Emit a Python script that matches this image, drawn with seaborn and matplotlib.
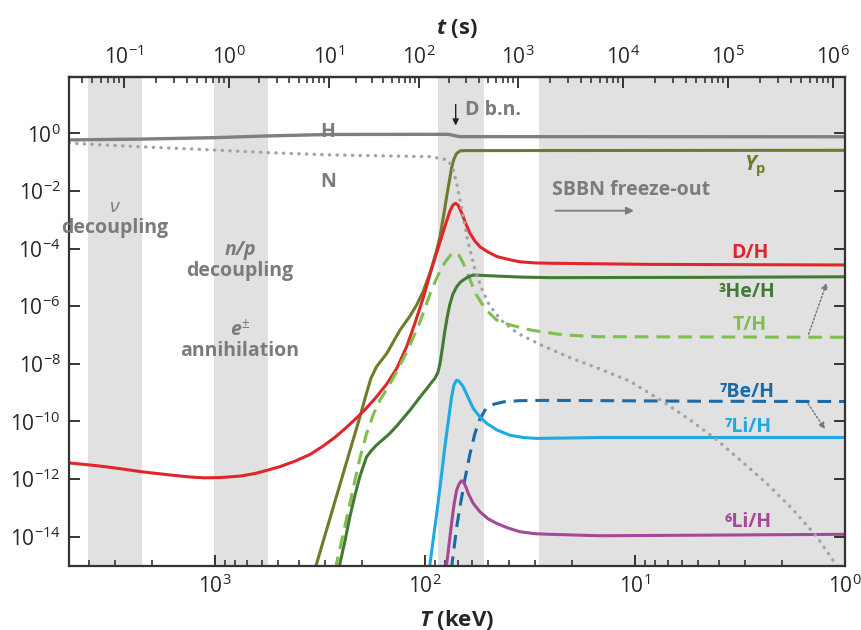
import numpy as np
import matplotlib
matplotlib.use("Agg")
import matplotlib.pyplot as plt
import seaborn as sns
from matplotlib.ticker import NullLocator

# values: temperature T in keV, abundances as log10
H_T = [4955, 2228, 1000, 560, 283, 94.7, 77.6, 74.3, 71.3, 68.1, 1]
H_LOG = [-0.23, -0.20, -0.15, -0.09, -0.04, -0.035, -0.035, -0.06, -0.09, -0.115, -0.12]

N_T = [4955, 2228, 1000, 560, 283, 94.7, 84.9, 77.6, 73.3, 70.7, 68.1, 66.1, 62.7, 58.3, 54.1,
       49.4, 43.5, 36.2, 28.0, 20.2, 14.7, 10.6, 7.33, 5.47, 4.08, 3.16, 2.36, 1.76, 1.36,
       1.14, 1.09]
N_LOG = [-0.34, -0.47, -0.58, -0.67, -0.75, -0.81, -0.87, -0.93, -1.27, -1.74, -2.32, -2.78,
         -3.70, -4.63, -5.33, -5.96, -6.48, -6.94, -7.35, -7.80, -8.18, -8.60, -9.32, -9.95,
         -10.64, -11.34, -12.15, -13.08, -14.01, -14.82, -15.03]

YP_T = [335, 254, 204, 190, 180.8, 170, 152, 131.5, 117.8, 109.6, 102.3, 94.7, 88.7, 84.9,
        81.6, 78.9, 76.4, 74.7, 72.8, 70.7, 68.1, 64.5, 1]
YP_LOG = [-15.16, -12.19, -9.84, -9.03, -8.50, -8.10, -7.64, -6.83, -6.34, -5.96, -5.51, -4.85,
          -4.16, -3.60, -2.87, -2.21, -1.62, -1.20, -0.89, -0.70, -0.61, -0.60, -0.59]

DH_T = [4955, 3532, 2832, 2228, 1637, 1315, 1116, 946, 760, 645, 560, 490, 416, 353, 306, 268,
        240, 211, 193, 173, 152, 136, 122, 112, 102, 93.6, 85.7, 79.4, 76.1, 73.6, 71.6, 69.6,
        66.7, 63.8, 61.1, 57.8, 54.7, 50.1, 45.4, 39.4, 35.3, 29.9, 25.4, 8.49, 1]
DH_LOG = [-11.44, -11.55, -11.64, -11.75, -11.86, -11.93, -11.96, -11.95, -11.90, -11.81,
          -11.69, -11.57, -11.38, -11.15, -10.86, -10.55, -10.25, -9.87, -9.59, -9.21, -8.70,
          -8.15, -7.39, -6.62, -5.72, -4.78, -3.88, -3.11, -2.70, -2.49, -2.43, -2.49, -2.78,
          -3.15, -3.47, -3.74, -3.94, -4.12, -4.28, -4.39, -4.46, -4.50, -4.51, -4.55, -4.57]

TH_T = [268, 240, 219, 204, 190, 176, 163.7, 152, 139, 122, 108, 101, 94.7, 87.9, 83, 78.9,
        75.1, 72.0, 68.9, 65.7, 63.1, 60.0, 57.2, 53.7, 50.1, 45.6, 41.6, 35.3, 31.3, 26.1,
        21.7, 15.1, 1]
TH_LOG = [-15.16, -13.60, -12.28, -11.27, -10.44, -9.75, -9.26, -8.88, -8.39, -7.59, -6.72,
          -6.17, -5.58, -5.02, -4.64, -4.40, -4.21, -4.13, -4.23, -4.51, -4.82, -5.21, -5.58,
          -5.90, -6.19, -6.48, -6.60, -6.74, -6.83, -6.92, -7.00, -7.06, -7.08]

HE3_T = [258, 240, 228, 215.4, 204, 195, 190, 180.8, 170, 158.5, 146.8, 135.9, 127, 117.8,
         109.6, 102, 94.7, 89.6, 86.7, 84.9, 82.6, 80.4, 78.2, 76.1, 73.6, 70.7, 68.1, 65.7,
         62.4, 58.9, 54.7, 47.3, 35.3, 25.4, 4.90, 1]
HE3_LOG = [-15.16, -14.12, -13.32, -12.56, -11.90, -11.48, -11.24, -11.03, -10.82, -10.63,
           -10.41, -10.15, -9.89, -9.61, -9.31, -9.02, -8.72, -8.50, -8.29, -8.01, -7.45, -6.86,
           -6.34, -5.93, -5.58, -5.33, -5.18, -5.09, -4.99, -4.92, -4.93, -4.95, -4.99, -5.01,
           -5.00, -4.98]

BE7_T = [75.0, 70.4, 67.4, 64.5, 61.1, 57.8, 54.7, 51.3, 46.9, 42.1, 35.3, 25.4, 4.90, 1]
BE7_LOG = [-15.16, -13.60, -12.77, -11.99, -11.14, -10.41, -9.91, -9.56, -9.40, -9.32, -9.28,
           -9.27, -9.30, -9.31]

LI7_T = [95.5, 87.9, 84.0, 80.4, 77.3, 74.7, 72.8, 70.7, 68.9, 67.4, 65.7, 62.4, 58.9, 54.7,
         50.8, 45.4, 39.4, 34.1, 29.4, 22.8, 14.7, 1]
LI7_LOG = [-15.16, -13.19, -12.04, -10.88, -9.95, -9.15, -8.74, -8.57, -8.60, -8.69, -8.80,
           -9.16, -9.55, -9.85, -10.07, -10.30, -10.48, -10.56, -10.59, -10.58, -10.56, -10.56]

LI6_T = [79.4, 76.9, 74.7, 72.8, 70.7, 68.9, 67.0, 65.6, 63.8, 62.2, 59.0, 54.7, 50.1, 45.6,
         40.3, 35.3, 29.9, 25.4, 14.7, 4.90, 1]
LI6_LOG = [-15.16, -14.30, -13.54, -12.91, -12.39, -12.18, -12.06, -12.09, -12.28, -12.50,
           -12.84, -13.14, -13.38, -13.54, -13.70, -13.83, -13.90, -13.92, -13.97, -13.95,
           -13.92]

# grey epochs (T range in keV)
BAND_HI = [4030, 1010, 86.7, 28.6]
BAND_LO = [2228, 560, 52.4, 1]

TIME_S = [1e-3, 1e-2, 1e-1, 1e0, 1e1, 1e2, 1e3, 1e4, 1e5, 1e6, 1e7, 1e8]
TIME_T = [27100, 8577, 2712, 858, 286.5, 106.8, 36.1, 11.4, 3.61, 1.14, 0.361, 0.114]
TIME_TICKS = [1e-1, 1e0, 1e1, 1e2, 1e3, 1e4, 1e5, 1e6]


def T_to_t(T):
    T = np.clip(np.asarray(T, dtype=float), 1e-6, None)
    return 10 ** np.interp(-np.log10(T), -np.log10(TIME_T), np.log10(TIME_S))


def t_to_T(t):
    t = np.clip(np.asarray(t, dtype=float), 1e-12, None)
    return 10 ** np.interp(np.log10(t), np.log10(TIME_S), np.log10(TIME_T))


sns.set_style("ticks")
plt.rcParams["font.family"] = ["Open Sans", "DejaVu Sans"]
plt.rcParams["mathtext.fontset"] = "custom"
plt.rcParams["mathtext.rm"] = "Open Sans"
plt.rcParams["mathtext.it"] = "Open Sans:italic"
plt.rcParams["mathtext.bf"] = "Open Sans:bold"
plt.rcParams["mathtext.bfit"] = "Open Sans:italic:bold"

fig = plt.figure(figsize=(8.62, 6.3), dpi=100)
ax = fig.add_axes([69 / 862, 1 - 566 / 630, 776 / 862, 489 / 630])
ax.set_xscale("log")
ax.set_yscale("log")

for hi, lo in zip(BAND_HI, BAND_LO):
    ax.axvspan(hi, lo, color="#e1e1e1", lw=0, zorder=0)

curves = [
    (H_T, H_LOG, "#7f7f7f", "-", 2.4),
    (YP_T, YP_LOG, "#6f7a2b", "-", 2.2),
    (DH_T, DH_LOG, "#e0262b", "-", 2.2),
    (TH_T, TH_LOG, "#7fbf4d", (0, (4.5, 2.6)), 2.2),
    (HE3_T, HE3_LOG, "#437a33", "-", 2.2),
    (BE7_T, BE7_LOG, "#1b69a6", (0, (4.5, 2.6)), 2.2),
    (LI7_T, LI7_LOG, "#1ea9e1", "-", 2.2),
    (LI6_T, LI6_LOG, "#a64897", "-", 2.2),
]
for T, lg, c, ls, lw in curves:
    sns.lineplot(x=T, y=10.0 ** np.array(lg), ax=ax, color=c, linestyle=ls, linewidth=lw,
                 sort=False, estimator=None, legend=False)

sns.lineplot(x=N_T, y=10.0 ** np.array(N_LOG), ax=ax, color="#a3a3a3", linewidth=2.4,
             linestyle=(0, (0.1, 2.2)), dash_capstyle="round", sort=False, estimator=None,
             legend=False)

ax.set_xlim(4955, 1)
ax.set_ylim(10 ** -15.02, 10 ** 1.955)
ax.set_yticks([10.0 ** k for k in range(-14, 1, 2)])
ax.yaxis.set_minor_locator(NullLocator())
ax.tick_params(which="major", direction="in", length=8, width=1.3, labelsize=15, pad=6)
ax.tick_params(which="minor", direction="in", length=4.5, width=1.1)
ax.tick_params(top=False, right=True, labelright=False)
for s in ax.spines.values():
    s.set_linewidth(1.6)
    s.set_color("#333333")
ax.set_xlabel(r"$\mathbfit{T}$ (keV)", fontsize=16, fontweight="bold", labelpad=7)
ax.set_ylabel("")

secax = ax.secondary_xaxis("top", functions=(T_to_t, t_to_T))
secax.set_xticks(TIME_TICKS)
secax.tick_params(which="major", direction="in", length=8, width=1.3, labelsize=15, pad=6)
secax.tick_params(which="minor", direction="in", length=4.5, width=1.1)
secax.spines["top"].set_linewidth(1.6)
secax.spines["top"].set_color("#333333")
secax.set_xlabel(r"$\mathbfit{t}$ (s)", fontsize=16, fontweight="bold", labelpad=8)

grey = "#7b7b7b"
tf = ax.transAxes
ax.text(0.334, 0.8885, "H", color=grey, fontsize=14, fontweight="bold", ha="center", va="center", transform=tf)
ax.text(0.334, 0.786, "N", color=grey, fontsize=14, fontweight="bold", ha="center", va="center", transform=tf)
ax.text(0.0593, 0.7335, r"$\nu$", color=grey, fontsize=14, ha="center", va="center", transform=tf)
ax.text(0.0593, 0.6906, "decoupling", color=grey, fontsize=14, fontweight="bold", ha="center", va="center", transform=tf)
ax.text(0.2204, 0.6462, "n/p", color=grey, fontsize=14, fontweight="bold", fontstyle="italic", ha="center", va="center", transform=tf)
ax.text(0.2204, 0.6039, "decoupling", color=grey, fontsize=14, fontweight="bold", ha="center", va="center", transform=tf)
ax.text(0.2204, 0.4840, r"$\mathbfit{e}^{\pm}$", color=grey, fontsize=14, ha="center", va="center", transform=tf)
ax.text(0.2204, 0.4403, "annihilation", color=grey, fontsize=14, fontweight="bold", ha="center", va="center", transform=tf)
ax.text(0.5103, 0.9325, "D b.n.", color=grey, fontsize=14, fontweight="bold", ha="left", va="center", transform=tf)
ax.annotate("", xy=(0.4983, 0.8951), xytext=(0.4983, 0.9495), xycoords=tf, textcoords=tf,
            arrowprops=dict(arrowstyle="-|>", color="#222222", lw=1.0, mutation_scale=9))
ax.text(0.622, 0.7689, "SBBN freeze-out", color=grey, fontsize=14, fontweight="bold", ha="left", va="center", transform=tf)
ax.annotate("", xy=(0.7316, 0.7266), xytext=(0.6233, 0.7266), xycoords=tf, textcoords=tf,
            arrowprops=dict(arrowstyle="-|>", color=grey, lw=1.3, mutation_scale=11))

ax.text(0.884, 0.8166, r"$\mathbfit{Y}_{\mathbf{p}}$", color="#6f7a2b", fontsize=15, ha="center", va="center", transform=tf)
ax.text(0.8776, 0.6395, "D/H", color="#e0262b", fontsize=14, fontweight="bold", ha="center", va="center", transform=tf)
ax.text(0.8733, 0.5611, "³He/H", color="#437a33", fontsize=14, fontweight="bold", ha="center", va="center", transform=tf)
ax.text(0.8767, 0.4928, "T/H", color="#7fbf4d", fontsize=14, fontweight="bold", ha="center", va="center", transform=tf)
ax.text(0.8733, 0.3564, "⁷Be/H", color="#1b69a6", fontsize=14, fontweight="bold", ha="center", va="center", transform=tf)
ax.text(0.8754, 0.2849, "⁷Li/H", color="#1ea9e1", fontsize=14, fontweight="bold", ha="center", va="center", transform=tf)
ax.text(0.8754, 0.0906, "⁶Li/H", color="#a64897", fontsize=14, fontweight="bold", ha="center", va="center", transform=tf)

for start, end in [((0.9519, 0.4689), (0.9777, 0.5849)), ((0.9506, 0.3362), (0.9763, 0.2748))]:
    ax.annotate("", xy=end, xytext=start, xycoords=tf, textcoords=tf,
                arrowprops=dict(arrowstyle="-|>", color="#777777", lw=1.1, linestyle=(0, (1, 1.5)),
                                mutation_scale=9))

fig.savefig("out.png", dpi=100)
